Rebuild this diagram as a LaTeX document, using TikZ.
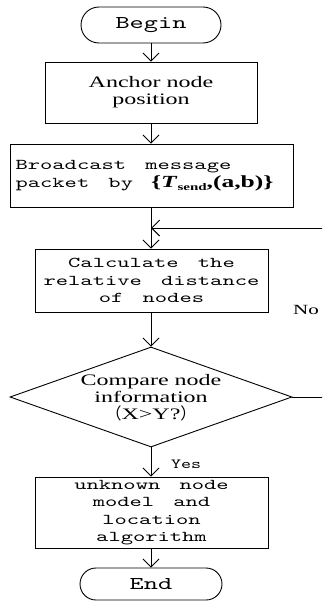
\documentclass[tikz,border=0pt]{standalone}
\usepackage{fontspec}
\usepackage{graphicx}
\usetikzlibrary{arrows.meta,shapes.geometric}
\newfontfamily\tnr[FakeStretch=1.5]{Liberation Serif}
\newfontfamily\cjk{Noto Sans CJK SC}
\newfontfamily\lmA[Extension=.otf, FakeStretch=1.56, WordSpace={1.56,0,0}]{lmmono10-regular}
\newfontfamily\lmB[Extension=.otf, FakeStretch=1.5, WordSpace={1.5,0,0}]{lmmono10-regular}
\newfontfamily\lmY[Extension=.otf, FakeStretch=1.36, WordSpace={1.36,0,0}]{lmmono10-regular}
\newcommand\monoA{\lmA\fontsize{15}{17.5}\selectfont}
\newcommand\monoB{\lmB\fontsize{18}{20}\selectfont}
\newcommand\monoY{\lmY\fontsize{14}{15}\selectfont}
\newcommand\serifA{\tnr\fontsize{16}{17}\selectfont}
\newcommand\serifN{\tnr\fontsize{14}{16}\selectfont}
\begin{document}
\begin{tikzpicture}[x=1pt,y=-1pt,
  box/.style={draw, line width=0.9pt, inner sep=0pt, align=center},
  term/.style={box, font=\monoB},
  arr/.style={-{Straight Barb[length=8pt,width=16pt]}, line width=0.9pt},
  link/.style={line width=0.9pt}
]
\useasboundingbox (0,0) rectangle (322,602);
\clip (0,0) rectangle (322,602);
\node[term, minimum width=140pt, minimum height=36pt, rounded corners=18pt] (begin) at (151,25) {Begin};
\node[box, minimum width=212pt, minimum height=61pt, font=\serifA] (anchor) at (151,92.5) {Anchor node\\position};
\node[box, minimum width=283pt, minimum height=63pt, align=left, font=\monoA] (bcast) at (151.5,175.5)
  {Broadcast message\\[1pt]packet by\hspace{18pt}{\tnr\fontsize{17}{20}\selectfont\bfseries\{\textit{T}\raisebox{-3pt}{\fontsize{10}{10}\selectfont send},(a,b)\}}\hspace*{14pt}};
\node[box, minimum width=233pt, minimum height=63pt, font=\monoA] (calc) at (151.5,280.5) {Calculate the\\relative distance\\of nodes};
\node[draw, diamond, line width=0.9pt, minimum width=282pt, minimum height=100pt, inner sep=0pt] (cmp) at (151,397) {};
\node[align=center, inner sep=0pt, font=\serifA] (cmptext) at (151,398) {Compare node\\information\\{\cjk （}X>Y?{\cjk ）}};
\node[box, minimum width=233pt, minimum height=71pt, font=\monoA] (unk) at (151.5,512.5) {unknown node\\model and\\location\\algorithm};
\node[term, minimum width=142pt, minimum height=32pt, rounded corners=16pt] (end) at (151,584) {End};
\node[anchor=west, inner sep=0pt, font=\serifN] (no) at (293,310) {No};
\node[inner sep=0pt, font=\monoY] (yes) at (186,464) {Yes};
\coordinate (merge) at (151,228);
\coordinate (loop) at (340,228);
\draw[arr] (begin.south) -- (begin.south |- anchor.north);
\draw[arr] (anchor.south) -- (anchor.south |- bcast.north);
\draw[arr] (bcast.south -| merge) -- (calc.north -| merge);
\draw[arr] (calc.south -| cmp.north) -- (cmp.north);
\draw[arr] (cmp.south) -- (cmp.south |- unk.north);
\draw[arr] (unk.south -| end.north) -- (end.north);
\draw[arr] (cmp.east) -| (loop) -- (merge);
\end{tikzpicture}
\end{document}
